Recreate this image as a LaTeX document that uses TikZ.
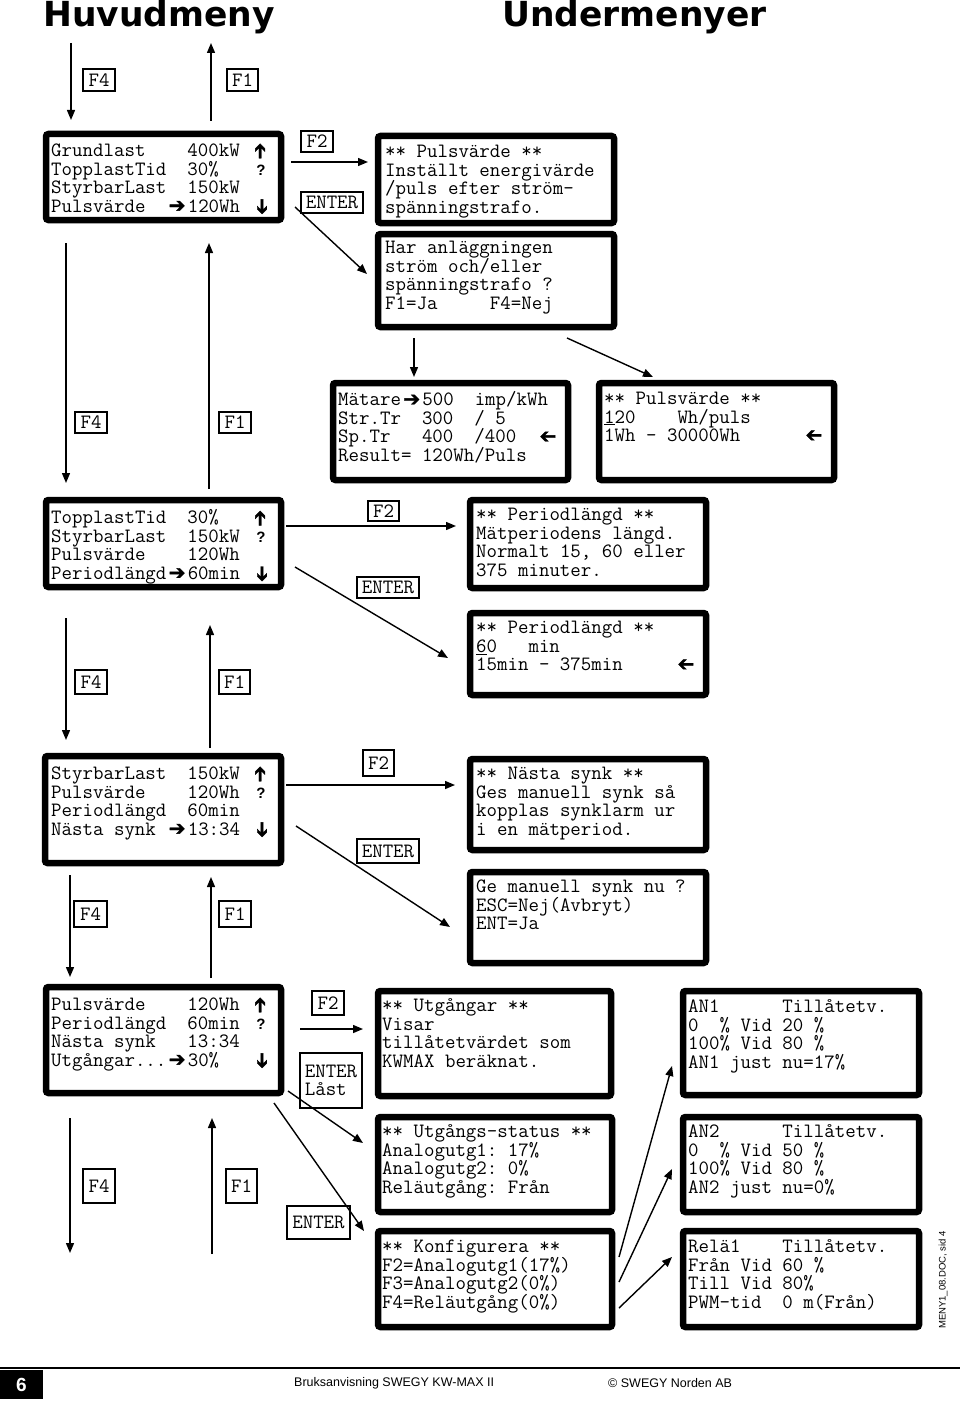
\documentclass[tikz,border=0pt]{standalone}
\usepackage{fontspec}
\usepackage{graphicx}
\usetikzlibrary{arrows.meta}
\newfontfamily\symf{DejaVu Sans}[FakeBold=1.6]
\newfontfamily\titlef{DejaVu Sans}
\newfontfamily\footf{Liberation Sans}
\newcommand\lcdfont{\ttfamily\fontsize{20.34}{18.5}\selectfont\lineskiplimit=-30pt\relax}
\newcommand\dcol[1]{\makebox[21.36pt][c]{#1}}
\newcommand\rar{\dcol{\symf\fontsize{20}{19}\selectfont ➔}}
\newcommand\lar{\dcol{\symf\fontsize{20}{19}\selectfont\reflectbox{➔}}}
\newcommand\uar{\dcol{\symf\fontsize{20}{18}\selectfont\rotatebox[origin=c]{90}{➔}}}
\newcommand\dar{\dcol{\symf\fontsize{20}{18}\selectfont\rotatebox[origin=c]{-90}{➔}}}
\newcommand\qm{\dcol{\footf\bfseries\fontsize{15}{15}\selectfont ?}}
\begin{document}
\begin{tikzpicture}[x=1pt,y=-1pt,
  lcd/.style={draw, line width=6.5pt, rounded corners=2.5pt, inner sep=0pt},
  lcdtxt/.style={font=\lcdfont, align=left, anchor=north west, inner sep=0pt},
  lbl/.style={draw, line width=1.2pt, font=\lcdfont, inner sep=0pt, align=center},
  arr/.style={line width=1.4pt, -{Triangle[length=10pt,width=8pt]}},
  ttl/.style={anchor=base west, inner sep=0pt, font=\titlef\bfseries\fontsize{34.5}{36}\selectfont},
  foot/.style={inner sep=0pt, font=\footf\fontsize{12.5}{13}\selectfont}]
\fill[white] (0,0) rectangle (960,1402);
\useasboundingbox (0,0) rectangle (960,1402);

% titles
\node[ttl] (t1) at (43,27) {Huvudmeny};
\node[ttl] (t2) at (502,27) {Undermenyer};

% LCD boxes
\node[lcd, minimum width=235, minimum height=86] (A) at (163.5,177) {};
\node[lcd, minimum width=236, minimum height=87] (P1) at (496,179.5) {};
\node[lcd, minimum width=236, minimum height=93] (P2) at (496,280.5) {};
\node[lcd, minimum width=235, minimum height=97] (M) at (450.5,431.5) {};
\node[lcd, minimum width=235, minimum height=97] (P3) at (716.5,431.5) {};
\node[lcd, minimum width=235, minimum height=87] (B) at (163.5,543.5) {};
\node[lcd, minimum width=236, minimum height=88] (Q1) at (588,544) {};
\node[lcd, minimum width=236, minimum height=82] (Q2) at (588,654) {};
\node[lcd, minimum width=236, minimum height=107] (C) at (163,809.5) {};
\node[lcd, minimum width=236, minimum height=91] (N1) at (588,804.5) {};
\node[lcd, minimum width=236, minimum height=91] (N2) at (588,917.5) {};
\node[lcd, minimum width=235, minimum height=106] (D) at (163.5,1040) {};
\node[lcd, minimum width=233, minimum height=105] (U1) at (494.5,1043.5) {};
\node[lcd, minimum width=234, minimum height=95] (U2) at (495,1164.5) {};
\node[lcd, minimum width=234, minimum height=96] (U3) at (495,1279) {};
\node[lcd, minimum width=236, minimum height=104] (R1) at (801,1043) {};
\node[lcd, minimum width=236, minimum height=95] (R2) at (801,1164.5) {};
\node[lcd, minimum width=236, minimum height=96] (R3) at (801,1279) {};

% LCD texts
\node[lcdtxt] (At) at (51,142.5) {\strut Grundlast~~~~400kW~\uar\\\strut TopplastTid~~30\%~~~\qm\\\strut StyrbarLast~~150kW\\\strut Pulsvärde~~\rar 120Wh~\dar};
\node[lcdtxt] (P1t) at (385,144.5) {\strut **~Pulsvärde~**\\\strut Inställt~energivärde\\\strut /puls~efter~ström-\\\strut spänningstrafo.};
\node[lcdtxt] (P2t) at (385,240.5) {\strut Har~anläggningen\\\strut ström~och/eller\\\strut spänningstrafo~?\\\strut F1=Ja~~~~~F4=Nej};
\node[lcdtxt] (Mt) at (338,391.5) {\strut Mätare\rar 500~~imp/kWh\\\strut Str.Tr~~300~~/~5\\\strut Sp.Tr~~~400~~/400~~\lar\\\strut Result=~120Wh/Puls};
\node[lcdtxt] (P3t) at (604,391.5) {\strut **~Pulsvärde~**\\\strut \underline{1}20~~~~Wh/puls\\\strut 1Wh~-~30000Wh~~~~~~\lar};
\node[lcdtxt] (Bt) at (51,509.5) {\strut TopplastTid~~30\%~~~\uar\\\strut StyrbarLast~~150kW~\qm\\\strut Pulsvärde~~~~120Wh\\\strut Periodlängd\rar 60min~\dar};
\node[lcdtxt] (Q1t) at (476,507.5) {\strut **~Periodlängd~**\\\strut Mätperiodens~längd.\\\strut Normalt~15,~60~eller\\\strut 375~minuter.};
\node[lcdtxt] (Q2t) at (476,620.5) {\strut **~Periodlängd~**\\\strut \underline{6}0~~~min\\\strut 15min~-~375min~~~~~\lar};
\node[lcdtxt] (Ct) at (51,765.5) {\strut StyrbarLast~~150kW~\uar\\\strut Pulsvärde~~~~120Wh~\qm\\\strut Periodlängd~~60min\\\strut Nästa~synk~\rar 13:34~\dar};
\node[lcdtxt] (N1t) at (476,766.5) {\strut **~Nästa~synk~**\\\strut Ges~manuell~synk~så\\\strut kopplas~synklarm~ur\\\strut i~en~mätperiod.};
\node[lcdtxt] (N2t) at (476,879.5) {\strut Ge~manuell~synk~nu~?\\\strut ESC=Nej(Avbryt)\\\strut ENT=Ja};
\node[lcdtxt] (Dt) at (51,996.5) {\strut Pulsvärde~~~~120Wh~\uar\\\strut Periodlängd~~60min~\qm\\\strut Nästa~synk~~~13:34\\\strut Utgångar...\rar 30\%~~~\dar};
\node[lcdtxt] (U1t) at (382,998.5) {\strut **~Utgångar~**\\\strut Visar\\\strut tillåtetvärdet~som\\\strut KWMAX~beräknat.};
\node[lcdtxt] (U2t) at (382,1124.5) {\strut **~Utgångs-status~**\\\strut Analogutg1:~17\%\\\strut Analogutg2:~0\%\\\strut Reläutgång:~Från};
\node[lcdtxt] (U3t) at (382,1239.5) {\strut **~Konfigurera~**\\\strut F2=Analogutg1(17\%)\\\strut F3=Analogutg2(0\%)\\\strut F4=Reläutgång(0\%)};
\node[lcdtxt] (R1t) at (688,999.5) {\strut AN1~~~~~~Tillåtetv.\\\strut 0~~\%~Vid~20~\%\\\strut 100\%~Vid~80~\%\\\strut AN1~just~nu=17\%};
\node[lcdtxt] (R2t) at (688,1124.5) {\strut AN2~~~~~~Tillåtetv.\\\strut 0~~\%~Vid~50~\%\\\strut 100\%~Vid~80~\%\\\strut AN2~just~nu=0\%};
\node[lcdtxt] (R3t) at (688,1239.5) {\strut Relä1~~~~Tillåtetv.\\\strut Från~Vid~60~\%\\\strut Till~Vid~80\%\\\strut PWM-tid~~0~m(Från)};

% key labels
\node[lbl, minimum width=32, minimum height=22] (LA4) at (99,80) {F4};
\node[lbl, minimum width=31, minimum height=22] (LA1) at (242.5,80) {F1};
\node[lbl, minimum width=32, minimum height=21] (LA2) at (317,141.5) {F2};
\node[lbl, minimum width=62, minimum height=21] (LAE) at (332,202.5) {ENTER};
\node[lbl, minimum width=32, minimum height=21] (LB4) at (91,422.5) {F4};
\node[lbl, minimum width=32, minimum height=21] (LB1) at (235,422.5) {F1};
\node[lbl, minimum width=31, minimum height=20] (LB2) at (383.5,511) {F2};
\node[lbl, minimum width=62, minimum height=21] (LBE) at (388,587.5) {ENTER};
\node[lbl, minimum width=32, minimum height=24] (LC4) at (91,682) {F4};
\node[lbl, minimum width=31, minimum height=24] (LC1) at (234.5,682) {F1};
\node[lbl, minimum width=31, minimum height=26] (LC2) at (378.5,763) {F2};
\node[lbl, minimum width=62, minimum height=24] (LCE) at (388,851) {ENTER};
\node[lbl, minimum width=33, minimum height=26] (LD4) at (90.5,914) {F4};
\node[lbl, minimum width=32, minimum height=26] (LD1) at (235,914) {F1};
\node[lbl, minimum width=32, minimum height=24] (LD2) at (328,1003) {F2};
\node[lbl, minimum width=62, minimum height=55, align=left] (LDE) at (331,1080.5) {ENTER\\Låst};
\node[lbl, minimum width=32, minimum height=34] (LE4) at (99,1186) {F4};
\node[lbl, minimum width=31, minimum height=34] (LE1) at (241.5,1186) {F1};
\node[lbl, minimum width=63, minimum height=33] (LEE) at (318.5,1222.5) {ENTER};

% free ends
\coordinate (f4top) at (71,43);
\coordinate (f1top) at (211,43);
\coordinate (f4bot) at (70,1253);
\coordinate (f1bot) at (212,1254);

% connectors
\draw[arr] (f4top) -- ([shift={(-92.5,-57)}]A.center);
\draw[arr] ([shift={(47.5,-56)}]A.center) -- (f1top);
\draw[arr] ([shift={(127.5,-15)}]A.center) -- ([shift={(-128,-17.5)}]P1.center);
\draw[arr] ([shift={(131.5,30)}]A.center) -- ([shift={(-129,-6.5)}]P2.center);
\draw[arr] ([shift={(-82,57.5)}]P2.center) -- ([shift={(-36.5,-54.5)}]M.center);
\draw[arr] ([shift={(71,57.5)}]P2.center) -- ([shift={(-63.5,-54.5)}]P3.center);
\draw[arr] ([shift={(-97.5,66)}]A.center) -- ([shift={(-97.5,-60.5)}]B.center);
\draw[arr] ([shift={(45.5,-54.5)}]B.center) -- ([shift={(45.5,66)}]A.center);
\draw[arr] ([shift={(122.5,-17.5)}]B.center) -- ([shift={(-132,-18)}]Q1.center);
\draw[arr] ([shift={(131.5,23.5)}]B.center) -- ([shift={(-140,4)}]Q2.center);
\draw[arr] ([shift={(-97.5,74.5)}]B.center) -- ([shift={(-97,-69.5)}]C.center);
\draw[arr] ([shift={(47,-61.5)}]C.center) -- ([shift={(46.5,81.5)}]B.center);
\draw[arr] ([shift={(123,-24.5)}]C.center) -- ([shift={(-133,-19.5)}]N1.center);
\draw[arr] ([shift={(133,16.5)}]C.center) -- ([shift={(-138,9.5)}]N2.center);
\draw[arr] ([shift={(-93,65.5)}]C.center) -- ([shift={(-93.5,-63)}]D.center);
\draw[arr] ([shift={(47.5,-62)}]D.center) -- ([shift={(48,67.5)}]C.center);
\draw[arr] ([shift={(136.5,-11)}]D.center) -- ([shift={(-131.5,-14.5)}]U1.center);
\draw[arr] ([shift={(124.5,51)}]D.center) -- ([shift={(-132,-21.5)}]U2.center);
\draw[arr] ([shift={(110.5,63)}]D.center) -- ([shift={(-131,-48)}]U3.center);
\draw[arr] ([shift={(-93.5,78)}]D.center) -- (f4bot);
\draw[arr] (f1bot) -- ([shift={(48.5,78)}]D.center);
\draw[arr] ([shift={(124,-22)}]U3.center) -- ([shift={(-129,23)}]R1.center);
\draw[arr] ([shift={(124,3)}]U3.center) -- ([shift={(-129,4.5)}]R2.center);
\draw[arr] ([shift={(124,29)}]U3.center) -- ([shift={(-129,-22)}]R3.center);

% side note and footer
\node[rotate=90, inner sep=0pt, font=\footf\fontsize{9.5}{10}\selectfont] (doc) at (943,1280) {MENY1\_08.DOC, sid 4};
\draw[line width=1.2pt] (0,1368) -- (960,1368);
\node[fill=black, minimum width=43, minimum height=29, inner sep=0pt, text=white, font=\footf\bfseries\fontsize{19}{20}\selectfont] (pg) at (21.5,1384.5) {6};
\node[foot, anchor=west] (ft1) at (294,1383) {Bruksanvisning SWEGY KW-MAX II};
\node[foot, anchor=west] (ft2) at (608,1383) {© SWEGY Norden AB};
\end{tikzpicture}
\end{document}
